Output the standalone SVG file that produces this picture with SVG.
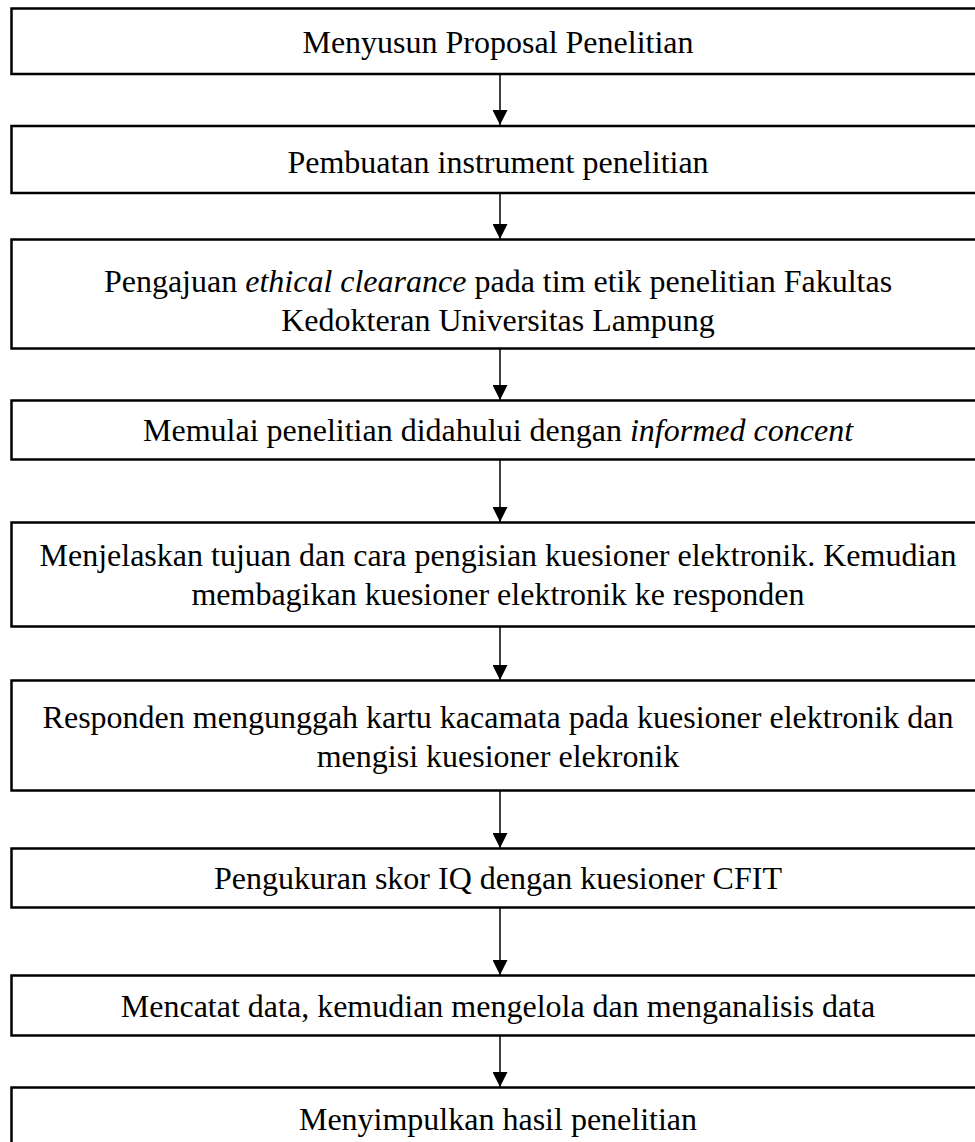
<svg xmlns="http://www.w3.org/2000/svg" width="975" height="1142" viewBox="0 0 975 1142">
<defs>
<style>
.box{fill:#fff;stroke:#000;stroke-width:2.5}
.t{font-family:"Liberation Serif","Times New Roman",serif;font-size:32px;fill:#000;text-anchor:middle}
.i{font-style:italic}
.c{stroke:#000;stroke-width:1.5;fill:none}
</style>
<marker id="ah" markerWidth="15" markerHeight="15" viewBox="0 0 15 15" refX="15" refY="7.5" orient="auto" markerUnits="userSpaceOnUse">
<path d="M0,0 L15,7.5 L0,15 Z" fill="#000"/>
</marker>
</defs>
<rect width="975" height="1142" fill="#fff"/>
<g id="connectors">
<line class="c" x1="500" y1="75" x2="500" y2="125" marker-end="url(#ah)"/>
<line class="c" x1="500" y1="194" x2="500" y2="239" marker-end="url(#ah)"/>
<line class="c" x1="500" y1="349" x2="500" y2="400" marker-end="url(#ah)"/>
<line class="c" x1="500" y1="460" x2="500" y2="522" marker-end="url(#ah)"/>
<line class="c" x1="500" y1="627" x2="500" y2="680" marker-end="url(#ah)"/>
<line class="c" x1="500" y1="791" x2="500" y2="848" marker-end="url(#ah)"/>
<line class="c" x1="500" y1="908" x2="500" y2="975" marker-end="url(#ah)"/>
<line class="c" x1="500" y1="1036" x2="500" y2="1087" marker-end="url(#ah)"/>
</g>
<g id="n1"><rect class="box" x="11.5" y="8.5" width="990" height="65.5"/><text class="t" x="498" y="53">Menyusun Proposal Penelitian</text></g>
<g id="n2"><rect class="box" x="11.5" y="126" width="990" height="67"/><text class="t" x="498" y="173">Pembuatan instrument penelitian</text></g>
<g id="n3"><rect class="box" x="11.5" y="239.5" width="990" height="109"/><text class="t" x="498" y="292">Pengajuan <tspan class="i">ethical clearance</tspan> pada tim etik penelitian Fakultas</text><text class="t" x="498" y="331">Kedokteran Universitas Lampung</text></g>
<g id="n4"><rect class="box" x="11.5" y="400.5" width="990" height="59"/><text class="t" x="498" y="441">Memulai penelitian didahului dengan <tspan class="i">informed concent</tspan></text></g>
<g id="n5"><rect class="box" x="11.5" y="522.5" width="990" height="104"/><text class="t" x="498" y="566">Menjelaskan tujuan dan cara pengisian kuesioner elektronik. Kemudian</text><text class="t" x="498" y="605">membagikan kuesioner elektronik ke responden</text></g>
<g id="n6"><rect class="box" x="11.5" y="680.5" width="990" height="110"/><text class="t" x="498" y="728">Responden mengunggah kartu kacamata pada kuesioner elektronik dan</text><text class="t" x="498" y="767">mengisi kuesioner elekronik</text></g>
<g id="n7"><rect class="box" x="11.5" y="848.5" width="990" height="59"/><text class="t" x="498" y="889">Pengukuran skor IQ dengan kuesioner CFIT</text></g>
<g id="n8"><rect class="box" x="11.5" y="975.5" width="990" height="60"/><text class="t" x="498" y="1017">Mencatat data, kemudian mengelola dan menganalisis data</text></g>
<g id="n9"><rect class="box" x="11.5" y="1087.5" width="990" height="80"/><text class="t" x="498" y="1130">Menyimpulkan hasil penelitian</text></g>
</svg>
